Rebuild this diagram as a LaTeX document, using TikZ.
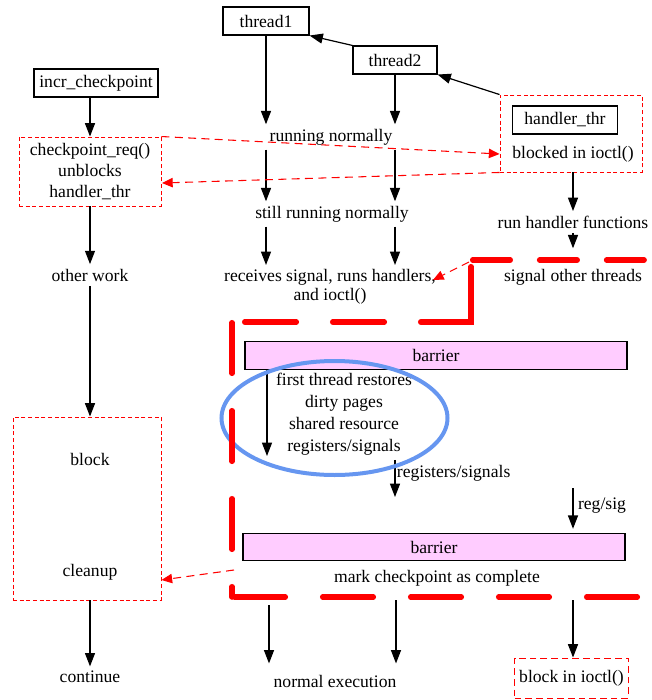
\documentclass[tikz,border=0pt]{standalone}
\usepackage{fontspec}
\setmainfont{Liberation Serif}
\usepackage{tikz}
\usetikzlibrary{calc,positioning,arrows.meta,shapes}
\definecolor{barpink}{RGB}{255,204,255}
\definecolor{ringblue}{RGB}{102,150,240}
\tikzset{thr/.style={draw,line width=0.8pt,minimum height=21pt,inner xsep=4pt},rbox/.style={draw=red,line
width=0.7pt,dash pattern=on 3pt off 2pt},bar/.style={draw,line width=0.8pt,fill=barpink,minimum
width=286.5pt,minimum height=20.5pt}}

\begin{document}
\begin{tikzpicture}[x=0.75pt,y=-0.75pt,font=\fontsize{13.2}{16}\selectfont,
		arr/.style={-{Triangle[length=10pt,width=7.5pt]},line width=0.9pt},
		sarr/.style={-{Triangle[length=8pt,width=7pt]},red,line width=0.8pt,dash pattern=on 6pt off 4pt},
		wall/.style={red,line width=4.2pt,line cap=round}]
		\useasboundingbox (0,0) rectangle (651,700);

		\node[thr,minimum width=64.5pt] (t1) at (266,21) {thread1};
		\node[thr,minimum width=63pt] (t2) at (395,60) {thread2};
		\node[thr,minimum width=91pt] (incr) at (96,83) {incr\_checkpoint};
		\node[rbox,minimum width=106.5pt,minimum height=57.75pt] (hbox) at (571,133.5) {};
		\node[thr,minimum width=79pt] (hthr) at (565,120) {handler\_thr};
		\node (hblk) at (573,154) {blocked in ioctl()};
		\node[rbox,align=center,minimum width=106.5pt,minimum height=51.75pt] (ckpt) at (90,171.5) {checkpoint\_req()\\unblocks\\handler\_thr};

		\node (run) at (331,137) {running normally};
		\node (still) at (332,214) {still running normally};
		\node[align=center,font=\fontsize{13.2}{14}\selectfont] (recv) at (330,287) {receives signal, runs handlers,\\and ioctl()};
		\node (hfun) at (573,222) {run handler functions};
		\node (sigo) at (573,277) {signal other threads};
		\node (other) at (90,275) {other work};

		\node[bar] (bar1) at (436,355.5) {barrier};
		\node[align=center,font=\fontsize{13.2}{16.5}\selectfont] (rest) at (344,414) {first thread restores\\dirty pages\\shared resource\\registers/signals};
		\node[bar] (bar2) at (434,547) {barrier};
		\node (mark) at (437,578) {mark checkpoint as complete};

		\node[rbox,minimum width=111pt,minimum height=137.25pt] (blk) at (87,508.5) {};
		\node (block) at (90,459) {block};
		\node (clean) at (90,572) {cleanup};
		\node (cont) at (90,677) {continue};
		\node (norm) at (335,681) {normal execution};
		\node[rbox,dash pattern=on 5pt off 3pt,minimum width=84.75pt,minimum height=30pt] (bioc) at (571.5,678) {block in ioctl()};

		\coordinate (sigfrom) at (469,262);
		\coordinate (recvto) at (433,280);
		\coordinate (ckin) at (162,183);
		\coordinate (cfrom) at (234,570);
		\coordinate (t1low) at (267,456);
		\coordinate (t2low) at (395,497);
		\coordinate (hlow) at (573,488);
		\coordinate (e1) at (269,605);
		\coordinate (e2) at (396,600);
		\coordinate (e3) at (573,600);

		\draw[arr] (t2.north west) -- (t1.south east);
		\draw[arr] (hbox.north west) -- (t2.south east);
		\draw[arr] (incr.south -| ckpt.center) -- (ckpt.north);
		\draw[arr] (t1.south) -- (t1.south |- run.north);
		\draw[arr] (t2.south) -- (t2.south |- run.north);
		\draw[arr] (run.south -| t1.south) -- (still.north -| t1.south);
		\draw[arr] (run.south -| t2.south) -- (still.north -| t2.south);
		\draw[arr] (still.south -| t1.south) -- (recv.north -| t1.south);
		\draw[arr] (still.south -| t2.south) -- (recv.north -| t2.south);
		\draw[arr] (hbox.south -| hfun) -- (hfun.north);
		\draw[arr,shorten >=12pt] (hfun.south) -- (sigo.north);
		\draw[arr] (ckpt.south) -- (other.north);
		\draw[arr] (other.south) -- (blk.north -| other);
		\draw[arr] (blk.south -| cont) -- (cont.north);

		\draw[sarr] (ckpt.north east) -- (hbox.west |- hblk);
		\draw[sarr] (hbox.south west) -- (ckin);
		\draw[sarr] (sigfrom) -- (recvto);
		\draw[sarr] (cfrom) -- ([yshift=-6pt]clean.east -| blk.east);

		\draw[arr] (bar1.south -| t1low) -- (t1low);
		\draw[arr] (rest.south -| t2low) -- node[right,pos=0.35,inner xsep=1pt] {registers/signals} (t2low);
		\draw[arr,shorten >=3pt] (hlow) -- node[right,pos=0.4] {reg/sig} (bar2.north -| hlow);
		\draw[arr,shorten >=5pt] (e1) -- (norm.north -| e1);
		\draw[arr,shorten >=5pt] (e2) -- (norm.north -| e2);
		\draw[arr] (e3) -- (bioc.north -| e3);

		\draw[ringblue,line width=3pt] (334.5,418) ellipse [x radius=84.75pt,y radius=42.75pt];

		\draw[wall,dash pattern=on 28.1pt off 22.1pt] (472.75,260) -- (650,260);
		\draw[wall,dash pattern=on 79.1pt off 27.4pt on 38.6pt off 27.4pt on 38.6pt off 75pt] (471,266.75) -- (471,322) -- (234,322);
		\draw[wall,dash pattern=on 37.9pt off 28.1pt] (232,322.75) -- (232,597);
		\draw[wall,dash pattern=on 37.9pt off 28.1pt] (234.75,597) -- (640,597);
	\end{tikzpicture}
\end{document}
